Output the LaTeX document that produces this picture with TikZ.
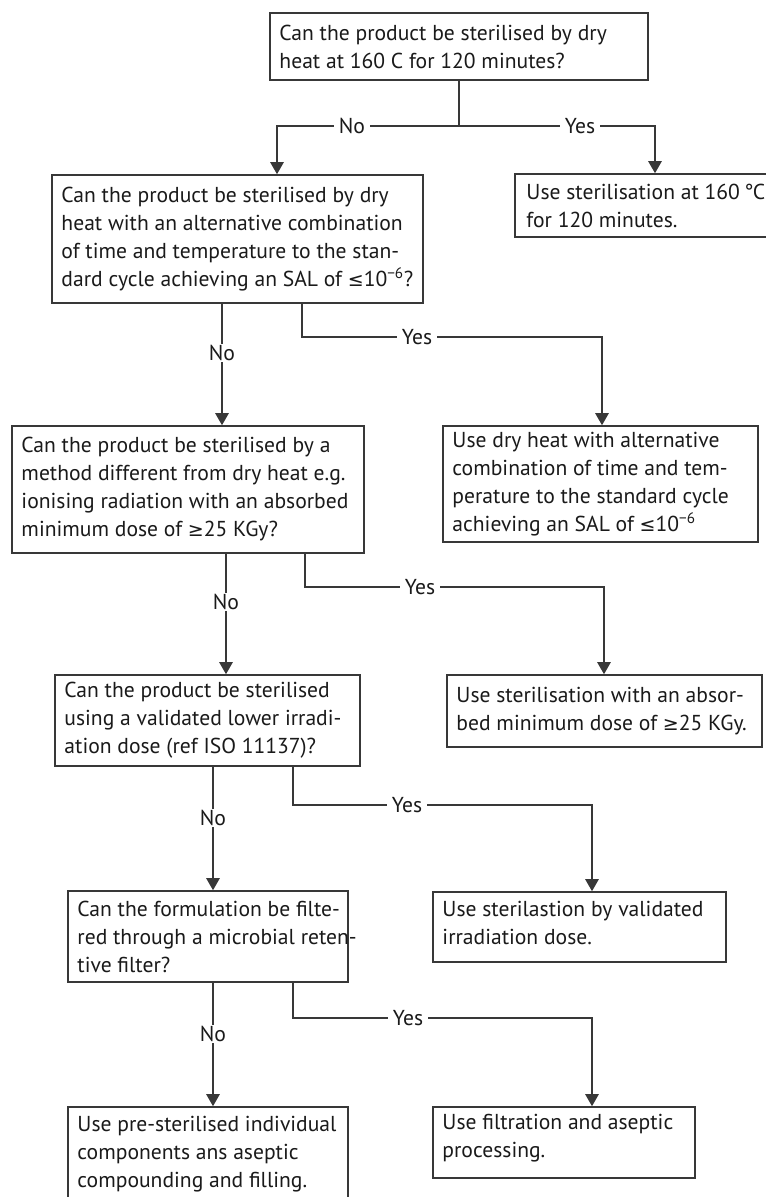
\documentclass[tikz,border=0pt]{standalone}
\usepackage{fontspec}
\setmainfont{PT Sans}
\newfontfamily\symf{DejaVu Sans}[Scale=0.88]
\usetikzlibrary{arrows.meta}
\definecolor{linec}{HTML}{383838}
\definecolor{txtc}{HTML}{1A1A1A}
\newcommand\fs{\fontsize{16.2pt}{21pt}\selectfont}
\newcommand\lesym{{\symf ≤}}
\newcommand\gesym{{\symf ≥}}
\begin{document}
\begin{tikzpicture}[x=0.75pt,y=-0.75pt,
  box/.style={draw=linec, line width=1.2pt, rectangle, inner sep=0pt},
  txt/.style={anchor=west, inner sep=0pt, align=left, font=\fs, text=txtc},
  ln/.style={draw=linec, line width=1.2pt},
  arr/.style={draw=linec, line width=1.2pt, -{Triangle[width=10pt,length=9pt]}},
  lbl/.style={fill=white, inner xsep=4pt, inner ysep=1pt, font=\fs, text=txtc}]
\useasboundingbox (0,0) rectangle (766,1197);
\clip (0,0) rectangle (766,1197);
\fill[white] (0,0) rectangle (766,1197);

% boxes
\node[box, minimum width=283.5pt, minimum height=50.25pt] (b1) at (459,46.5) {};
\node[txt] (t1) at ([xshift=7.5pt]b1.west)
  {Can the product be sterilised by dry\\heat at 160 C for 120 minutes?};
\node[box, minimum width=195.75pt, minimum height=47.25pt] (r1) at (645.5,205.5) {};
\node[txt] (u1) at ([xshift=9pt]r1.west)
  {Use sterilisation at 160\hspace{0.2em}°\kern-0.5pt C\\for 120 minutes.};
\node[box, minimum width=278.25pt, minimum height=96pt] (b2) at (237.5,239) {};
\node[txt] (t2) at ([xshift=7.5pt]b2.west)
  {Can the product be sterilised by dry\\heat with an alternative combination\\of time and temperature to the stan-\\dard cycle achieving an SAL of \lesym10\textsuperscript{−6}?};
\node[box, minimum width=236.25pt, minimum height=87pt] (r2) at (600.5,484) {};
\node[txt] (u2) at ([xshift=7.5pt]r2.west)
  {Use dry heat with alternative\\combination of time and tem-\\perature to the standard cycle\\achieving an SAL of \lesym10\textsuperscript{−6}};
\node[box, minimum width=264pt, minimum height=95.25pt] (b3) at (188,489.5) {};
\node[txt] (t3) at ([xshift=7.5pt]b3.west)
  {Can the product be sterilised by a\\method different from dry heat e.g.\\ionising radiation with an absorbed\\minimum dose of \gesym25 KGy?};
\node[box, minimum width=236.25pt, minimum height=54pt] (r3) at (604.5,711) {};
\node[txt] (u3) at ([xshift=7.5pt]r3.west)
  {Use sterilisation with an absor-\\bed minimum dose of \gesym25 KGy.};
\node[box, minimum width=228.75pt, minimum height=68.25pt] (b4) at (207.5,720.5) {};
\node[txt] (t4) at ([xshift=7.5pt]b4.west)
  {Can the product be sterilised\\using a validated lower irradi-\\ation dose (ref ISO 11137)?};
\node[box, minimum width=219.75pt, minimum height=52.5pt] (r4) at (579.5,927) {};
\node[txt] (u4) at ([xshift=7.5pt,yshift=3pt]r4.west)
  {Use sterilastion by validated\\irradiation dose.};
\node[box, minimum width=210pt, minimum height=68.25pt] (b5) at (208,936.5) {};
\node[txt] (t5) at ([xshift=7.5pt]b5.west)
  {Can the formulation be filte-\\red through a microbial reten-\\tive filter?};
\node[box, minimum width=196.5pt, minimum height=53.25pt] (r5) at (564,1142.5) {};
\node[txt] (u5) at ([xshift=7.5pt,yshift=3pt]r5.west)
  {Use filtration and aseptic\\processing.};
\node[box, minimum width=210pt, minimum height=70.5pt] (b6) at (208,1154) {};
\node[txt] (u6) at ([xshift=7.5pt]b6.west)
  {Use pre-sterilised individual\\components ans aseptic\\compounding and filling.};

% connector coordinates
\coordinate (j1) at (459,126);
\coordinate (c1n) at (277,126);
\coordinate (c1y) at (655,126);
\coordinate (x2n) at (222,0);
\coordinate (x2y) at (302,0);
\coordinate (k2) at (602,337);
\coordinate (x3n) at (226,0);
\coordinate (x3y) at (305,0);
\coordinate (k3) at (604,587);
\coordinate (x4n) at (213,0);
\coordinate (x4y) at (293,0);
\coordinate (k4) at (592,805);
\coordinate (x5n) at (213,0);
\coordinate (x5y) at (293,0);
\coordinate (k5) at (592,1018);

% level 1
\draw[ln] (b1.south) -- (j1);
\draw[arr] (j1) -- (c1n) -- (c1n |- b2.north);
\draw[arr] (j1) -- (c1y) -- (c1y |- r1.north);
\node[lbl] at (352,126) {No};
\node[lbl] at (580,126) {Yes};

% level 2
\draw[arr] (b2.south -| x2n) -- (b3.north -| x2n);
\draw[arr] (b2.south -| x2y) |- (k2) -- (k2 |- r2.north);
\node[lbl] at (222,353) {No};
\node[lbl] at (417,337) {Yes};

% level 3
\draw[arr] (b3.south -| x3n) -- (b4.north -| x3n);
\draw[arr] (b3.south -| x3y) |- (k3) -- (k3 |- r3.north);
\node[lbl] at (226,602) {No};
\node[lbl] at (420,587) {Yes};

% level 4
\draw[arr] (b4.south -| x4n) -- (b5.north -| x4n);
\draw[arr] (b4.south -| x4y) |- (k4) -- (k4 |- r4.north);
\node[lbl] at (213,818) {No};
\node[lbl] at (407,805) {Yes};

% level 5
\draw[arr] (b5.south -| x5n) -- (b6.north -| x5n);
\draw[arr] (b5.south -| x5y) |- (k5) -- (k5 |- r5.north);
\node[lbl] at (213,1034) {No};
\node[lbl] at (408,1018) {Yes};
\end{tikzpicture}
\end{document}
